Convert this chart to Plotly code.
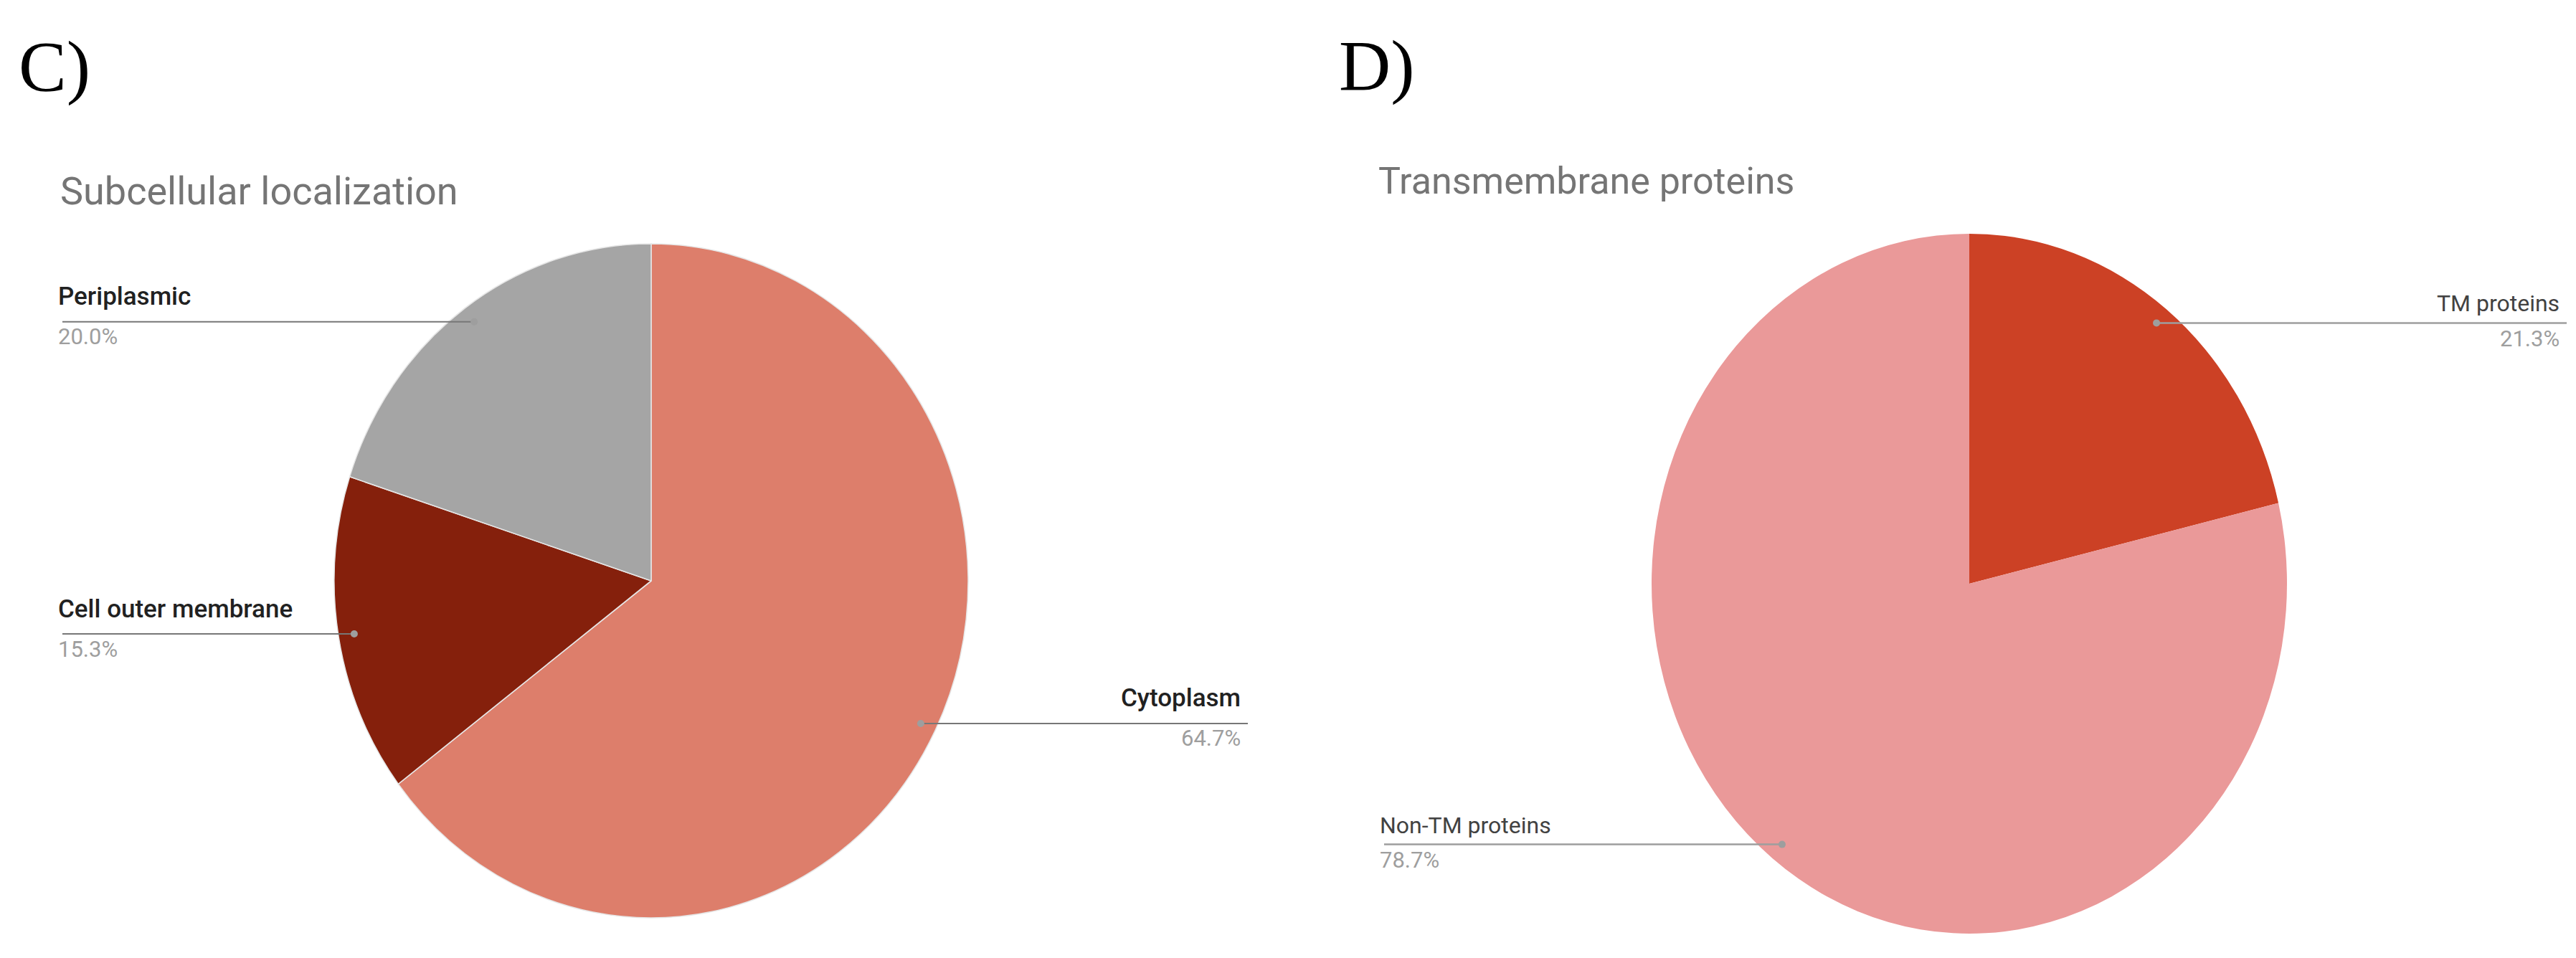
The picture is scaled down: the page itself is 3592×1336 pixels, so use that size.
import math
import json
import plotly.graph_objects as go

W, H = 3592, 1336

# ---------------- data ----------------
panel_tags = ["C)", "D)"]

c_title = "Subcellular localization"
c_labels = ["Cytoplasm", "Cell outer membrane", "Periplasmic"]
c_values = [64.7, 15.3, 20.0]
c_colors = ["#DD7E6B", "#85200C", "#A5A5A5"]

d_title = "Transmembrane proteins"
d_labels = ["TM proteins", "Non-TM proteins"]
d_values = [21.3, 78.7]
d_colors = ["#CC4125", "#EA9999"]

# ---------------- layout (pixels) ----------------
TXT_SHIFT = -8   # annotation boxes render a few px right of their anchor

panels = [
    dict(tag=panel_tags[0], tag_x=16, tag_y=84, title=c_title, title_x=74, title_y=258, title_size=54,
         labels=c_labels, values=c_values, colors=c_colors, cx=900, cy=802, rx=442, ry=470,
         sides=["right", "left", "left"], left_x=79, right_x=1732,
         lab_size=35, lab_weight=500, lab_color="#212121", lab_off=-35, pct_off=21,
         line_w=2, line_color="#777777", border="#E6E6E6", border_w=1.5),
    dict(tag=panel_tags[1], tag_x=1857, tag_y=83, title=d_title, title_x=1912, title_y=244, title_size=52,
         labels=d_labels, values=d_values, colors=d_colors, cx=2738, cy=806, rx=443, ry=488,
         sides=["right", "left"], left_x=1922, right_x=3571,
         lab_size=32, lab_weight=400, lab_color="#424242", lab_off=-27, pct_off=22,
         line_w=2.5, line_color="#9E9E9E", border="#EA9999", border_w=0),
]

fig = go.Figure()
shapes = []
annotations = []
squash = []

for p in panels:
    cx, cy, rx, ry = p["cx"], p["cy"], p["rx"], p["ry"]
    fig.add_trace(go.Pie(
        labels=p["labels"], values=p["values"], sort=False, direction="clockwise", rotation=0,
        marker=dict(colors=p["colors"], line=dict(color=p["border"], width=p["border_w"])),
        textinfo="none", hoverinfo="label+percent", showlegend=False,
        domain=dict(x=[(cx - rx) / W, (cx + rx) / W], y=[(H - cy - rx) / H, (H - cy + rx) / H]),
    ))
    squash.append([cy, ry / rx])
    total = sum(p["values"])
    cum = 0.0
    for lab, val, side in zip(p["labels"], p["values"], p["sides"]):
        th = 2 * math.pi * (cum + val / 2) / total
        cum += val
        dx = cx + 0.95 * rx * math.sin(th)
        dy = cy - 0.95 * ry * math.cos(th)
        end_x = p["right_x"] if side == "right" else p["left_x"]
        shapes.append(dict(type="line", xref="x", yref="y", x0=dx, x1=end_x, y0=dy, y1=dy,
                           line=dict(color=p["line_color"], width=p["line_w"]), layer="above"))
        shapes.append(dict(type="circle", xref="x", yref="y", x0=dx - 5, x1=dx + 5, y0=dy - 5, y1=dy + 5,
                           fillcolor="#9E9E9E", line=dict(width=0), layer="above"))
        anchor = "right" if side == "right" else "left"
        tx = end_x + TXT_SHIFT
        annotations.append(dict(xref="x", yref="y", x=tx, y=dy + p["lab_off"], text=lab,
                                showarrow=False, xanchor=anchor, yanchor="middle",
                                font=dict(family="Roboto", size=p["lab_size"], color=p["lab_color"],
                                          weight=p["lab_weight"])))
        pct = "%.1f%%" % (100.0 * val / total)
        annotations.append(dict(xref="x", yref="y", x=tx, y=dy + p["pct_off"], text=pct,
                                showarrow=False, xanchor=anchor, yanchor="middle",
                                font=dict(family="Roboto", size=31, color="#9E9E9E")))
    annotations.append(dict(xref="x", yref="y", x=p["title_x"], y=p["title_y"], text=p["title"],
                            showarrow=False, xanchor="left", yanchor="middle",
                            font=dict(family="Roboto", size=p["title_size"], color="#757575")))
    annotations.append(dict(xref="x", yref="y", x=p["tag_x"], y=p["tag_y"], text=p["tag"],
                            showarrow=False, xanchor="left", yanchor="middle",
                            font=dict(family="Liberation Serif", size=100, color="#000000")))

fig.update_layout(
    width=W, height=H, margin=dict(l=0, r=0, t=0, b=0),
    paper_bgcolor="white", plot_bgcolor="white",
    xaxis=dict(range=[0, W], visible=False, fixedrange=True),
    yaxis=dict(range=[H, 0], visible=False, fixedrange=True),
    shapes=shapes, annotations=annotations,
)

# the reference pies are slightly taller than wide: stretch each pie vertically about its centre
post = """
var gd = document.getElementById('{plot_id}');
var S = %s;
function squashPies() {
  var tr = gd.querySelectorAll('.pielayer .trace');
  for (var i = 0; i < tr.length && i < S.length; i++) {
    var cy = S[i][0], s = S[i][1];
    tr[i].setAttribute('transform', 'translate(0,' + (cy * (1 - s)) + ') scale(1,' + s + ')');
  }
}
squashPies();
gd.on('plotly_afterplot', squashPies);
""" % json.dumps(squash)

fig.write_html("out.html", post_script=post)
